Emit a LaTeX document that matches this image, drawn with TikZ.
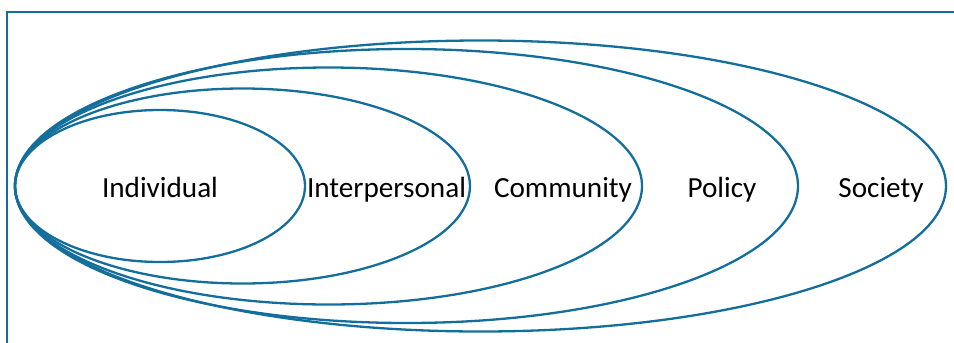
\documentclass[tikz,border=0pt]{standalone}
\usepackage{fontspec}
\setmainfont{Carlito}
\usepackage{xcolor}
\usepackage{tikz}
\usetikzlibrary{positioning}

\definecolor{ringblue}{RGB}{20,110,155}

\begin{document}
\begin{tikzpicture}[x=0.5pt, y=-0.5pt]
    \tikzstyle{ring} = [draw=ringblue, line width=1.15pt]
    \tikzstyle{level} = [font=\fontsize{14.6}{17}\selectfont, anchor=base, inner sep=0pt]

    \useasboundingbox (0,0) rectangle (954,343);

    % frame
    \coordinate (frametop) at (954,12);
    \coordinate (framecorner) at (7,12);
    \coordinate (framebottom) at (7,343);
    \draw [ring] (frametop) -- (framecorner) -- (framebottom);

    % nested levels
    \foreach \cx/\rx/\ry in {160/145/76, 242.5/227.5/97.5, 328.5/313.5/118.5, 406.5/391.5/137, 480.5/465.5/145.5}
        \draw [ring] (\cx,186) ellipse [x radius=\rx, y radius=\ry];

    \node [level] (indiv) at (160,197) {Individual};
    \node [level] (inter) at (386.5,197) {Interpersonal};
    \node [level] (comm) at (563,197) {Community};
    \node [level] (policy) at (722,197) {Policy};
    \node [level] (society) at (881,197) {Society};
\end{tikzpicture}
\end{document}
